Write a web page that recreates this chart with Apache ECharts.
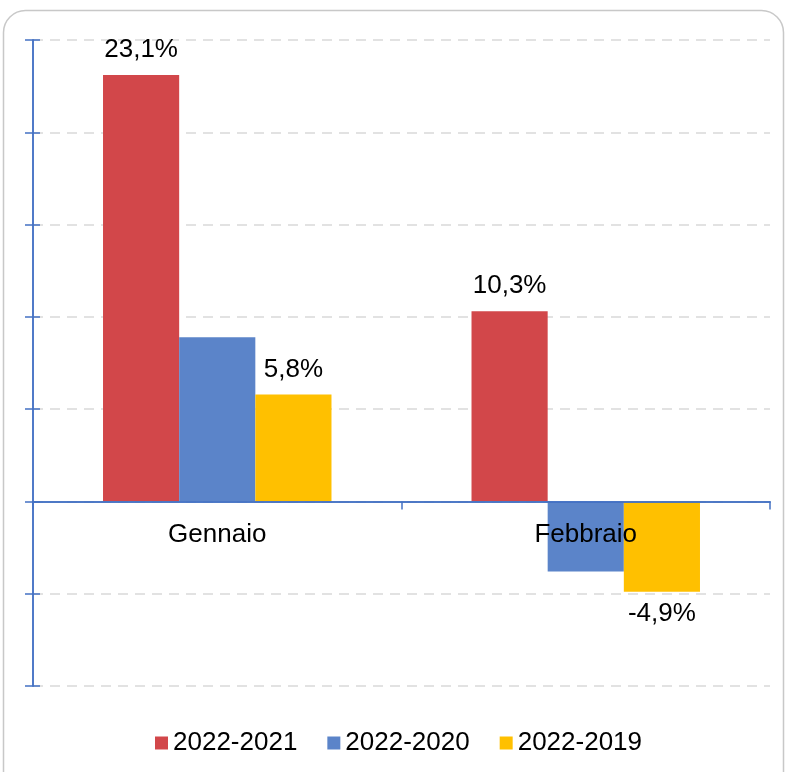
<!DOCTYPE html>
<html>
<head>
<meta charset="utf-8">
<script src="https://cdn.jsdelivr.net/npm/echarts@6/dist/echarts.min.js"></script>
<style>
  html, body { margin: 0; padding: 0; background: #fff; }
  #main { width: 786px; height: 772px; }
</style>
</head>
<body>
<div id="main"></div>
<script>
var categories = ['Gennaio', 'Febbraio'];
var seriesNames = ['2022-2021', '2022-2020', '2022-2019'];
var values2021 = [23.1, 10.3];
var values2020 = [8.9, -3.8];
var values2019 = [5.8, -4.9];
var colors = ['#D2474A', '#5B84C9', '#FFC000'];

var font = 'Liberation Sans, Arial, sans-serif';
var axisBlue = '#4472C4';

function fmt(p) {
  return String(p.value.toFixed(1)).replace('.', ',') + '%';
}

var chart = echarts.init(document.getElementById('main'));
chart.setOption({
  animation: false,
  backgroundColor: '#fff',
  graphic: [{
    type: 'rect',
    shape: { x: 3.5, y: 10.5, width: 780, height: 800, r: 22 },
    style: { fill: 'none', stroke: '#C8C8C8', lineWidth: 1.5 },
    z: -1
  }],
  grid: { left: 33, right: 16, top: 40, bottom: 86 },
  legend: {
    top: 725,
    left: 150,
    itemWidth: 13,
    itemHeight: 13,
    itemGap: 30,
    icon: 'rect',
    textStyle: { fontFamily: font, fontSize: 26, color: '#000' },
    data: seriesNames
  },
  xAxis: [{
    type: 'category',
    data: categories,
    axisLine: { onZero: true, lineStyle: { color: axisBlue, width: 1.5 } },
    axisTick: { show: true, length: 8, lineStyle: { color: axisBlue, width: 1.5 } },
    axisLabel: { show: false },
    z: 10
  }, {
    type: 'category',
    data: categories,
    axisLine: { onZero: true, lineStyle: { color: axisBlue, width: 1.5 } },
    axisTick: { show: true, inside: true, length: 7, lineStyle: { color: axisBlue, width: 1.5 } },
    axisLabel: { show: false },
    z: 10
  }],
  yAxis: [{
    type: 'value',
    min: -10,
    max: 25,
    interval: 5,
    axisLine: { show: true, lineStyle: { color: axisBlue, width: 1.5 } },
    axisTick: { show: true, length: 8, lineStyle: { color: axisBlue, width: 1.5 } },
    axisLabel: { show: false },
    splitLine: { show: true, lineStyle: { color: '#D9D9D9', type: [10, 7], width: 1.5 } }
  }, {
    type: 'value',
    min: -10,
    max: 25,
    interval: 5,
    position: 'left',
    axisLine: { show: true, lineStyle: { color: axisBlue, width: 1.5 } },
    axisTick: { show: true, inside: true, length: 7, lineStyle: { color: axisBlue, width: 1.5 } },
    axisLabel: { show: false },
    splitLine: { show: false }
  }],
  series: [{
    name: seriesNames[0],
    type: 'bar',
    data: values2021,
    barGap: 0,
    barCategoryGap: '38%',
    itemStyle: { color: colors[0] },
    label: { show: true, position: 'top', distance: 12, formatter: fmt, fontFamily: font, fontSize: 26, color: '#000' }
  }, {
    name: seriesNames[1],
    type: 'bar',
    data: values2020,
    barGap: 0,
    barCategoryGap: '38%',
    itemStyle: { color: colors[1] }
  }, {
    name: seriesNames[2],
    type: 'bar',
    barGap: 0,
    barCategoryGap: '38%',
    itemStyle: { color: colors[2] },
    label: { show: true, position: 'top', distance: 12, formatter: fmt, fontFamily: font, fontSize: 26, color: '#000' },
    // negative value: label under the bar, as in the reference
    data: values2019.map(function (v) {
      return v < 0 ? { value: v, label: { position: 'bottom', distance: 9 } } : v;
    })
  }, {
    // category names sit just under the zero line, like Excel does
    name: 'categorie',
    type: 'scatter',
    symbolSize: 0,
    silent: true,
    z: 20,
    data: categories.map(function (c) { return [c, 0]; }),
    label: {
      show: true,
      position: 'bottom',
      distance: 20,
      opacity: 1,
      formatter: function (p) { return p.value[0]; },
      fontFamily: font, fontSize: 26, color: '#000'
    },
    emphasis: { disabled: true }
  }]
});
</script>
</body>
</html>
